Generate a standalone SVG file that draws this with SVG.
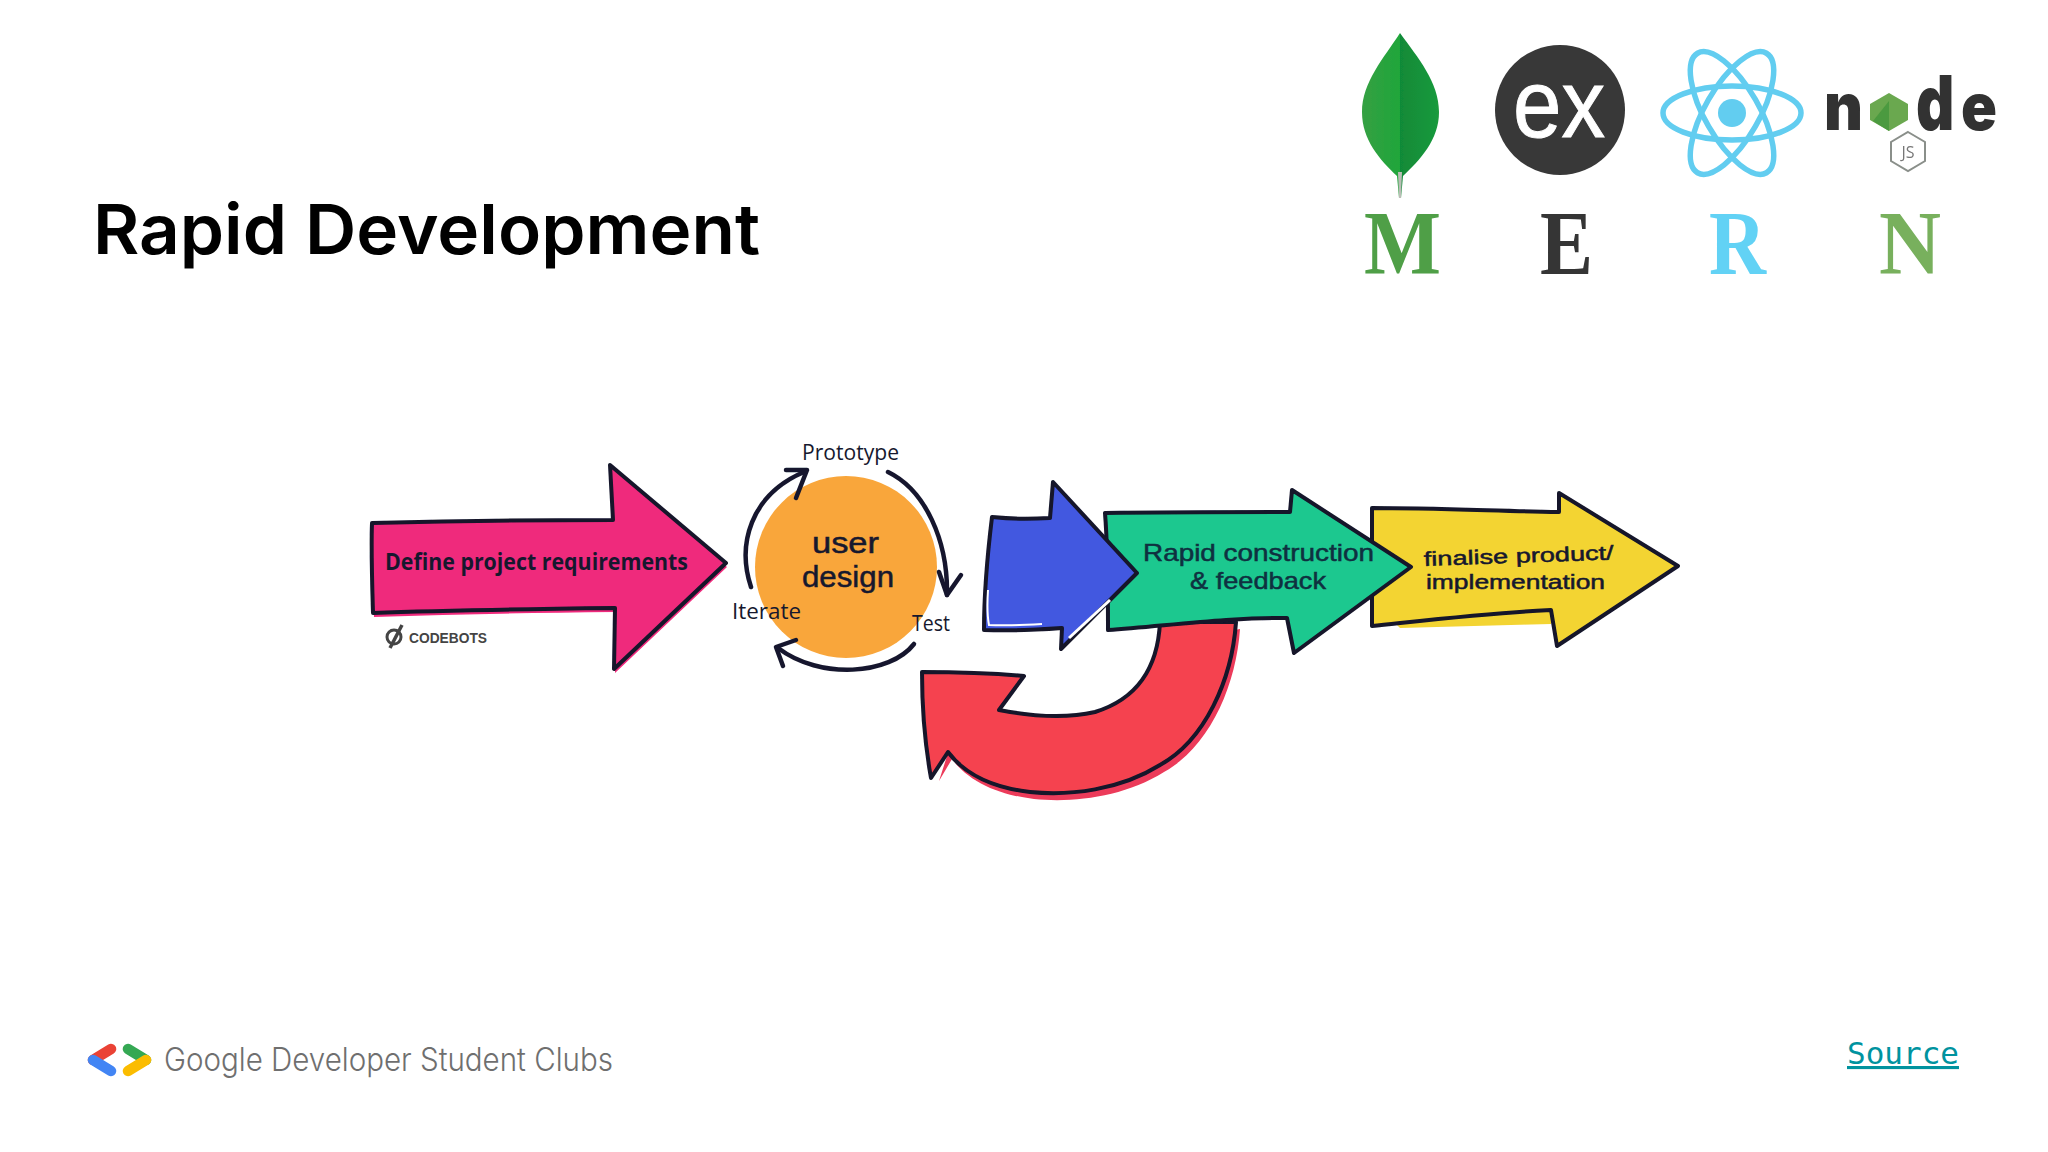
<svg xmlns="http://www.w3.org/2000/svg" width="2048" height="1152" viewBox="0 0 2048 1152">
<defs>
<linearGradient id="leaf" x1="0" x2="1" y1="0" y2="0"><stop offset="0" stop-color="#35a043"/><stop offset=".5" stop-color="#1fa63a"/><stop offset=".5" stop-color="#118a38"/><stop offset="1" stop-color="#1a9a3c"/></linearGradient>
<filter id="soft" x="-30%" y="-30%" width="160%" height="160%"><feGaussianBlur stdDeviation="0.7"/></filter>
</defs>
<style>
.b{filter:url(#soft)}
.out{stroke:#14152b;stroke-width:4;stroke-linejoin:round;stroke-linecap:round}
.arc{fill:none;stroke:#16182e;stroke-width:4.5;stroke-linecap:round;stroke-linejoin:round}
.hand{font-family:"Open Sans","DejaVu Sans",sans-serif;font-weight:600;fill:#16182e}
.tight{font-family:"Liberation Sans",sans-serif;fill:#16182e;stroke:#16182e;stroke-width:.5}
.serif{font-family:"Liberation Serif",serif;font-weight:700;font-size:90px}
.nd{font-family:Inter,"Liberation Sans",sans-serif;font-weight:900;font-size:66px;fill:#333}
</style>
<rect width="2048" height="1152" fill="#fff"/>
<text id="title" x="93" y="254" font-family="Inter,'Liberation Sans',sans-serif" font-weight="600" font-size="69" fill="#000" textLength="667" lengthAdjust="spacingAndGlyphs">Rapid Development</text>

<g id="logo-mongodb" class="b">
<path d="M1400 33C1418 58 1439 82 1439 112C1439 140 1420 160 1403 176L1401 198L1399 198L1397 176C1380 160 1362 140 1362 112C1362 82 1384 58 1400 33Z" fill="url(#leaf)"/>
<path d="M1399 198L1398 172L1402 172L1401 198Z" fill="#b9bdb5"/>
<text class="serif" x="1364" y="274" fill="#4f9f47" textLength="77" lengthAdjust="spacingAndGlyphs">M</text>
</g>
<g id="logo-express" class="b">
<ellipse cx="1560" cy="110" rx="65" ry="65" fill="#373737"/>
<text x="1559" y="137" text-anchor="middle" font-family="'Liberation Sans',sans-serif" font-size="96" fill="#fff" stroke="#fff" stroke-width="1" textLength="92" lengthAdjust="spacingAndGlyphs">ex</text>
<text class="serif" x="1540" y="274" fill="#353535" textLength="53" lengthAdjust="spacingAndGlyphs">E</text>
</g>
<g id="logo-react" class="b">
<g fill="none" stroke="#62cdf0" stroke-width="5.5">
<ellipse cx="1732" cy="113" rx="69" ry="27"/>
<ellipse cx="1732" cy="113" rx="69" ry="27" transform="rotate(60 1732 113)"/>
<ellipse cx="1732" cy="113" rx="69" ry="27" transform="rotate(120 1732 113)"/>
</g>
<circle cx="1732" cy="113" r="14" fill="#62cdf0"/>
<text class="serif" x="1709" y="274" fill="#62d2f5" textLength="57" lengthAdjust="spacingAndGlyphs">R</text>
</g>
<g id="logo-node" class="b">
<text class="nd" x="1824" y="130" textLength="39" lengthAdjust="spacingAndGlyphs">n</text>
<path d="M1889 93L1908 104L1908 120L1889 131L1870 120L1870 104Z" fill="#6aa84f"/>
<path d="M1873 121L1889 101L1889 131Z" fill="#4c9a3f"/>
<text class="nd" transform="translate(1916 130) scale(.9 1.15)">d</text>
<text class="nd" x="1961" y="130" textLength="36" lengthAdjust="spacingAndGlyphs">e</text>
<path d="M1908 132L1925 142L1925 161L1908 171L1891 161L1891 142Z" fill="none" stroke="#8a8f8a" stroke-width="2"/>
<text x="1908" y="158" text-anchor="middle" font-family="'Open Sans',sans-serif" font-size="16" fill="#777">JS</text>
<text class="serif" x="1879" y="274" fill="#78b05d" textLength="62" lengthAdjust="spacingAndGlyphs">N</text>
</g>

<g id="node-define">
<g class="b">
<path d="M372 523C450 521 540 520 613 520L610 465L726 563L614 669L615 608C530 609 450 610 373 613C372 580 371 550 372 523Z" fill="#ef2a7c" transform="translate(1 4)"/>
<path d="M372 523C450 521 540 520 613 520L610 465L726 563L614 669L615 608C530 609 450 610 373 613C372 580 371 550 372 523Z" fill="#ef2a7c" class="out"/>
</g>
<text class="hand" font-size="24" x="385" y="570" textLength="303" lengthAdjust="spacingAndGlyphs" fill="#2a1230" style="font-weight:700">Define project requirements</text>
</g>
<g id="brand-codebots">
<circle cx="394" cy="637" r="7" fill="none" stroke="#444" stroke-width="3"/>
<path d="M390 648L402 625" stroke="#444" stroke-width="3.5" fill="none"/>
<text x="409" y="643" font-family="'Liberation Sans',sans-serif" font-weight="700" font-size="14" fill="#444" textLength="78" lengthAdjust="spacingAndGlyphs">CODEBOTS</text>
</g>
<g id="node-user-design">
<circle class="b" cx="846" cy="567" r="91" fill="#f9a63a"/>
<text class="tight" font-size="29" x="812" y="553" textLength="67" lengthAdjust="spacingAndGlyphs">user</text>
<text class="tight" font-size="29" x="802" y="587" textLength="92" lengthAdjust="spacingAndGlyphs">design</text>
</g>
<g id="label-prototype"><text class="hand" font-size="22" x="802" y="460" textLength="97" lengthAdjust="spacingAndGlyphs" style="font-weight:500">Prototype</text></g>
<g id="label-iterate"><text class="hand" font-size="21" x="732" y="619" textLength="69" lengthAdjust="spacingAndGlyphs" style="font-weight:500">Iterate</text></g>
<g id="label-test"><text class="hand" font-size="21" x="912" y="631" textLength="38" lengthAdjust="spacingAndGlyphs" style="font-weight:500">Test</text></g>

<g id="node-feedback-loop" class="b">
<path d="M1160 640C1150 680 1130 700 1095 716C1060 724 1025 720 1000 714L960 700L935 778L948 756C965 779 995 792 1030 796C1070 800 1120 794 1160 769C1205 744 1232 684 1236 626Z" fill="#ec3a5a" transform="translate(4 3)"/>
<path d="M1160 622C1158 665 1140 698 1095 712C1060 720 1025 715 999 710L1024 676C990 673 955 672 922 672C922 710 926 750 931 778L948 752C965 775 995 788 1030 792C1070 796 1120 790 1160 765C1205 740 1232 680 1236 622Z" fill="#f5434f" class="out"/>
</g>
<g id="node-yellow">
<g class="b">
<path d="M1380 600L1551 590L1551 616L1400 620Z" fill="#f3d431" transform="translate(0 8)"/>
<path d="M1372 508C1430 508 1500 511 1559 512L1559 493L1678 566L1557 646L1551 610C1490 613 1430 620 1372 626Z" fill="#f3d431" class="out"/>
</g>
<text class="tight" font-size="20" x="1424" y="566" textLength="190" lengthAdjust="spacingAndGlyphs" transform="rotate(-2 1424 566)">finalise product/</text>
<text class="tight" font-size="20" x="1426" y="589" textLength="179" lengthAdjust="spacingAndGlyphs">implementation</text>
</g>
<g id="node-green">
<path class="b out" d="M1105 513C1170 512 1230 512 1290 512L1292 490L1411 567L1294 653L1287 618C1230 617 1165 626 1108 630C1108 590 1108 550 1105 513Z" fill="#1fc88f"/>
<text class="tight" font-size="24" x="1143" y="561" textLength="231" lengthAdjust="spacingAndGlyphs" style="fill:#0f3040;stroke:#0f3040">Rapid construction</text>
<text class="tight" font-size="24" x="1190" y="589" textLength="136" lengthAdjust="spacingAndGlyphs" style="fill:#0f3040;stroke:#0f3040">&amp; feedback</text>
</g>
<g id="node-blue" class="b">
<path d="M992 517C1010 519 1030 519 1050 518L1053 482L1137 573L1061 649L1062 628C1035 630 1010 631 984 630C984 590 988 550 992 517Z" fill="#4359e0" class="out"/>
<path d="M988 590C987 605 987 615 989 625C1005 626 1025 625 1042 624" fill="none" stroke="#fff" stroke-width="2"/>
<path d="M1069 638L1110 600" fill="none" stroke="#fff" stroke-width="3"/>
</g>
<g id="connectors" class="b">
<path class="arc" d="M751 587C737 545 750 495 804 472"/>
<path class="arc" d="M786 470L807 470L796 498"/>
<path class="arc" d="M888 472C925 490 948 540 947 595"/>
<path class="arc" d="M939 572L947 595L961 575"/>
<path class="arc" d="M914 644C890 675 820 680 778 648"/>
<path class="arc" d="M796 640L776 647L783 666"/>
</g>

<g id="footer-logo">
<g class="b" fill="none" stroke-width="10.5" stroke-linecap="round">
<path d="M111 1049L93 1060" stroke="#ea4335"/>
<path d="M93 1060L111 1071" stroke="#4285f4"/>
<path d="M128 1049L146 1060" stroke="#34a853"/>
<path d="M146 1060L128 1071" stroke="#fbbc04"/>
</g>
<text x="164" y="1071" font-family="Inter,'Open Sans',sans-serif" font-weight="300" font-size="32" fill="#6f6f6f" textLength="449" lengthAdjust="spacingAndGlyphs">Google Developer Student Clubs</text>
</g>
<text id="source" x="1847" y="1064" font-family="'DejaVu Sans Mono',monospace" font-size="31" fill="#00939f" text-decoration="underline">Source</text>
</svg>
